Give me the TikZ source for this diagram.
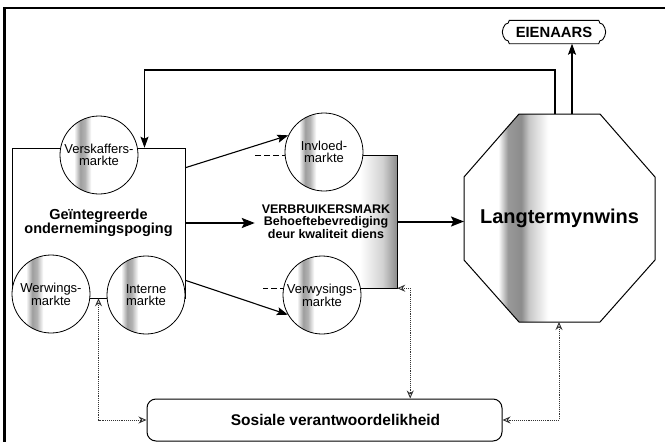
\documentclass[tikz,border=0pt]{standalone}
\usepackage{fontspec}
\setmainfont{Liberation Sans}
\usetikzlibrary{arrows.meta,calc}

% soft vertical bands used as fills
\pgfdeclarehorizontalshading{discband}{100bp}{color(0bp)=(white); color(34bp)=(white); color(38bp)=(black!38); color(41bp)=(black!30); color(45bp)=(white); color(100bp)=(white)}
\pgfdeclarehorizontalshading{octband}{100bp}{color(0bp)=(white); color(34bp)=(white); color(36.5bp)=(black!40); color(40bp)=(black!45); color(42bp)=(black!22); color(47bp)=(white); color(100bp)=(white)}
\pgfdeclarehorizontalshading{rectband}{100bp}{color(0bp)=(white); color(62bp)=(white); color(70bp)=(black!18); color(75bp)=(black!45); color(100bp)=(black!45)}

\begin{document}
\begin{tikzpicture}[x=1pt,y=-1pt,
  mkt/.style={circle, draw, line width=0.8pt, minimum size=78pt, inner sep=0pt,
    shade, shading=discband, align=center, font=\fontsize{13}{11.5}\selectfont},
  thinedge/.style={line width=0.5pt},
  arr/.style={line width=1.1pt, -{Stealth[length=11pt,width=8pt,inset=2pt]}},
  bigarr/.style={line width=2pt, -{Stealth[length=13pt,width=10pt,inset=2.5pt]}},
  dots/.style={line width=0.9pt, densely dotted, black!80,
    {Stealth[open,length=8pt,width=7pt]}-{Stealth[open,length=8pt,width=7pt]}},
  boldtxt/.style={font=\bfseries\fontsize{#1}{#1}\selectfont, align=center}
]
\useasboundingbox (0,0) rectangle (665,442);

% outer frame (top and left only)
\draw[line width=3pt] (4.5,442) -- (4.5,8);
\draw[line width=2pt] (3,8) -- (665,8);

% integrated effort box
\node[draw, thinedge, minimum width=173pt, minimum height=150pt, inner sep=0pt,
      boldtxt=14.5] (gi) at (98.5,223) {Ge\"integreerde\\ondernemingspoging};

% consumer market block
\coordinate (p-inv) at (324,152);
\coordinate (p-vwy) at (322,295);
\node[minimum width=142pt, minimum height=133pt, inner sep=0pt, shade, shading=rectband,
      boldtxt=12.5] (vm) at (326,221.5)
      {VERBRUIKERSMARK\\Behoeftebevrediging\\deur kwaliteit diens};
\draw[thinedge] (p-inv |- vm.north) -- (vm.north east) -- (vm.south east) -- (p-vwy |- vm.south);
\draw[thinedge, dash pattern=on 6pt off 3pt] (p-inv |- vm.north) -- (vm.north west);
\draw[thinedge, dash pattern=on 6pt off 3pt] (p-vwy |- vm.south) -- ([xshift=8pt]vm.south west);

% markets
\node[mkt] (vsk) at (99,155) {Verskaffers-\\markte};
\node[mkt] (wer) at (51,294) {Werwings-\\markte};
\node[mkt] (int) at (146,295) {Interne\\markte};
\node[mkt] (inv) at (p-inv) {Invloed-\\markte};
\node[mkt] (vwy) at (p-vwy) {Verwysings-\\markte};

% long-term profit octagon
\path[draw, line width=1pt, shade, shading=octband]
  (464,177) -- (519,114) -- (600,114) -- (655,177) -- (655,260) -- (600,322) -- (519,322) -- (464,260) -- cycle;
\node[boldtxt=20] (lw) at (559.5,218) {Langtermynwins};
\coordinate (oct-w) at (464,222);
\coordinate (oct-n1) at (555,114);
\coordinate (oct-n2) at (572,114);
\coordinate (oct-s) at (559,322);

% owners plaque
\node[boldtxt=14.8, minimum width=97pt, minimum height=23pt, inner sep=0pt] (eien) at (554,32) {EIENAARS};
\begin{scope}[x=1pt,y=1pt]
\draw[line width=0.9pt] let \p1=(eien.south west), \p2=(eien.north east), \n1={(\y1+\y2)/2} in
  ({\x1+4pt},\y2) -- ({\x2-4pt},\y2)
  arc[start angle=180, end angle=270, radius=4pt]
  to[out=-60,in=90] ({\x2+3pt},\n1) to[out=-90,in=60] (\x2,{\y1+4pt})
  arc[start angle=90, end angle=180, radius=4pt]
  -- ({\x1+4pt},\y1)
  arc[start angle=0, end angle=90, radius=4pt]
  to[out=120,in=-90] ({\x1-3pt},\n1) to[out=90,in=-120] (\x1,{\y2-4pt})
  arc[start angle=270, end angle=360, radius=4pt] -- cycle;
\end{scope}

% social responsibility
\node[draw, line width=1pt, rounded corners=9pt, minimum width=355pt, minimum height=42pt,
      boldtxt=15.5] (soc) at (324.5,420) {\hspace*{22pt}Sosiale verantwoordelikheid};

% solid connectors
\draw[arr] ([yshift=-20pt]gi.north east) -- (inv.155);
\draw[arr] ([yshift=18pt]gi.south east) -- (vwy.210);
\draw[bigarr] (gi.east) -- (gi.east -| vm.west);
\draw[bigarr] (vm.east) -- (vm.east -| oct-w);
\draw[arr] (oct-n1) -- ++(0,-44) -| ([xshift=46pt]gi.north);
\draw[arr] (oct-n2) -- (oct-n2 |- eien.south);

% dotted two-way links
\draw[dots] (gi.south) |- (soc.west);
\draw[dots] (vm.south east) -- ([xshift=13pt]vm.south east) -- ([xshift=13pt]vm.south east |- soc.north);
\draw[dots] (oct-s) |- (soc.east);
\end{tikzpicture}
\end{document}
